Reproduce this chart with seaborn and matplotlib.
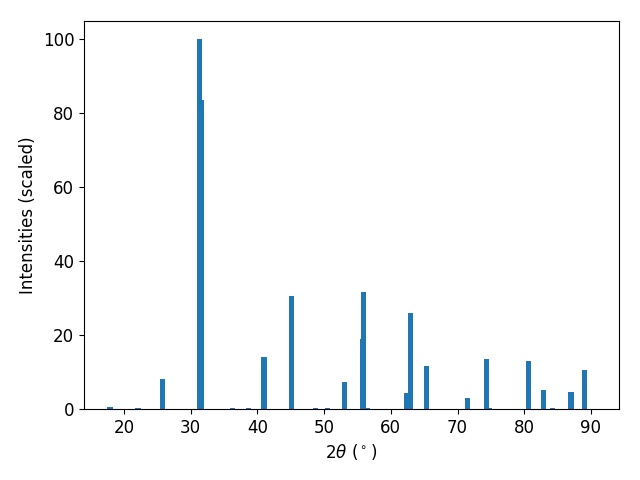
import matplotlib
matplotlib.use("Agg")
import matplotlib.pyplot as plt
import seaborn as sns
import pandas as pd

two_theta = [17.9, 22.1, 25.8, 31.3, 31.6, 36.3, 38.7, 41.0, 45.1, 48.7, 50.5,
             53.1, 55.75, 55.9, 56.4, 62.35, 62.95, 65.3, 71.5, 74.3, 74.8,
             80.6, 82.9, 84.2, 87.0, 89.0]
intensity = [0.6, 0.3, 8.1, 100.0, 83.6, 0.3, 0.3, 14.1, 30.7, 0.3, 0.3,
             7.3, 19.0, 31.7, 0.3, 4.3, 26.0, 11.7, 3.0, 13.6, 0.3,
             13.0, 5.2, 0.3, 4.6, 10.6]

df = pd.DataFrame({"two_theta": two_theta, "intensity": intensity})

sns.reset_orig()
plt.style.use("default")
plt.rcParams["font.family"] = ["DejaVu Sans"]

fig, ax = plt.subplots(figsize=(6.4, 4.8), dpi=100)
ax.bar(df["two_theta"], df["intensity"], width=0.8, color="#1f77b4", linewidth=0)
ax.set_xlim(14.0, 94.2)
ax.set_ylim(0, 105)
ax.set_xticks([20, 30, 40, 50, 60, 70, 80, 90])
ax.set_yticks([0, 20, 40, 60, 80, 100])
ax.tick_params(labelsize=12)
ax.set_xlabel(r"$2\theta$ ($^\circ$)", fontsize=12)
ax.set_ylabel("Intensities (scaled)", fontsize=12)
fig.subplots_adjust(left=84/640, right=619/640, top=1-21/480, bottom=1-409/480)
fig.savefig("out.png", dpi=100)
